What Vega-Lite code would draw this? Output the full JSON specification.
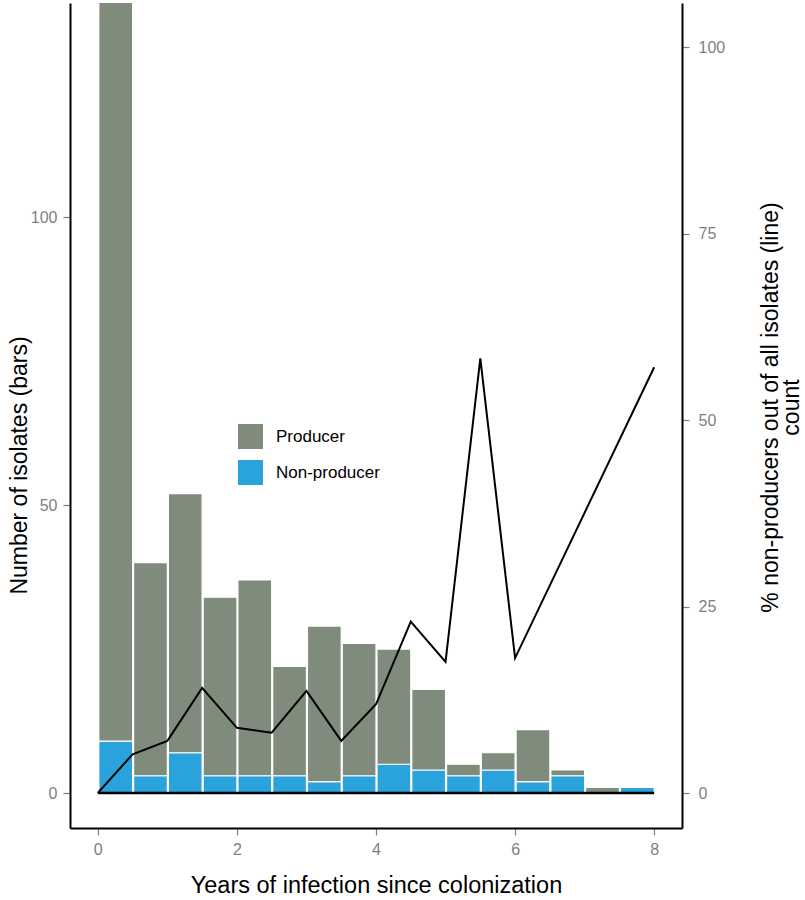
{
  "$schema": "https://vega.github.io/schema/vega-lite/v6.json",
  "width": 612,
  "height": 825,
  "autosize": {"type": "none"},
  "padding": {"left": 70, "top": 3, "right": 123, "bottom": 72},
  "config": {
    "view": {"stroke": null},
    "font": "Liberation Sans",
    "axis": {
      "grid": false,
      "domainColor": "black",
      "domainWidth": 2,
      "tickColor": "#7f7f7f",
      "tickWidth": 1.2,
      "tickSize": 7,
      "labelColor": "#7f7f7f",
      "labelFontSize": 16,
      "labelFont": "Liberation Sans",
      "titleFont": "Liberation Sans",
      "titleColor": "black",
      "titleFontWeight": "normal",
      "titleFontSize": 23
    }
  },
  "datasets": {
    "bars": [
      {"start": 0, "end": 0.5, "type": "Non-producer", "count": 9},
      {"start": 0, "end": 0.5, "type": "Producer", "count": 164},
      {"start": 0.5, "end": 1, "type": "Non-producer", "count": 3},
      {"start": 0.5, "end": 1, "type": "Producer", "count": 37},
      {"start": 1, "end": 1.5, "type": "Non-producer", "count": 7},
      {"start": 1, "end": 1.5, "type": "Producer", "count": 45},
      {"start": 1.5, "end": 2, "type": "Non-producer", "count": 3},
      {"start": 1.5, "end": 2, "type": "Producer", "count": 31},
      {"start": 2, "end": 2.5, "type": "Non-producer", "count": 3},
      {"start": 2, "end": 2.5, "type": "Producer", "count": 34},
      {"start": 2.5, "end": 3, "type": "Non-producer", "count": 3},
      {"start": 2.5, "end": 3, "type": "Producer", "count": 19},
      {"start": 3, "end": 3.5, "type": "Non-producer", "count": 2},
      {"start": 3, "end": 3.5, "type": "Producer", "count": 27},
      {"start": 3.5, "end": 4, "type": "Non-producer", "count": 3},
      {"start": 3.5, "end": 4, "type": "Producer", "count": 23},
      {"start": 4, "end": 4.5, "type": "Non-producer", "count": 5},
      {"start": 4, "end": 4.5, "type": "Producer", "count": 20},
      {"start": 4.5, "end": 5, "type": "Non-producer", "count": 4},
      {"start": 4.5, "end": 5, "type": "Producer", "count": 14},
      {"start": 5, "end": 5.5, "type": "Non-producer", "count": 3},
      {"start": 5, "end": 5.5, "type": "Producer", "count": 2},
      {"start": 5.5, "end": 6, "type": "Non-producer", "count": 4},
      {"start": 5.5, "end": 6, "type": "Producer", "count": 3},
      {"start": 6, "end": 6.5, "type": "Non-producer", "count": 2},
      {"start": 6, "end": 6.5, "type": "Producer", "count": 9},
      {"start": 6.5, "end": 7, "type": "Non-producer", "count": 3},
      {"start": 6.5, "end": 7, "type": "Producer", "count": 1},
      {"start": 7, "end": 7.5, "type": "Non-producer", "count": 0},
      {"start": 7, "end": 7.5, "type": "Producer", "count": 1},
      {"start": 7.5, "end": 8, "type": "Non-producer", "count": 1},
      {"start": 7.5, "end": 8, "type": "Producer", "count": 0}
    ],
    "pct": [
      {"year": 0, "pct": 0},
      {"year": 0.5, "pct": 5.2},
      {"year": 1, "pct": 7.0},
      {"year": 1.5, "pct": 14.1},
      {"year": 2, "pct": 8.75},
      {"year": 2.5, "pct": 8.1},
      {"year": 3, "pct": 13.7},
      {"year": 3.5, "pct": 7.0},
      {"year": 4, "pct": 11.9},
      {"year": 4.5, "pct": 23.0},
      {"year": 5, "pct": 17.6},
      {"year": 5.5, "pct": 58.3},
      {"year": 6, "pct": 18.1},
      {"year": 8, "pct": 57.1}
    ],
    "base": [{"from": 0, "to": 8, "y": 0}]
  },
  "layer": [
    {
      "layer": [
        {
          "data": {"name": "bars"},
          "mark": {"type": "bar", "stroke": "white", "strokeWidth": 1.2, "clip": true},
          "encoding": {
            "x": {
              "field": "start",
              "type": "quantitative",
              "bin": {"binned": true, "step": 0.5},
              "scale": {"domain": [-0.4, 8.4], "nice": false, "zero": false},
              "axis": {
                "values": [0, 2, 4, 6, 8],
                "format": "d",
                "title": "Years of infection since colonization",
                "titleFontSize": 23.5,
                "labelPadding": 6,
                "titleY": 57,
                "titleBaseline": "middle"
              }
            },
            "x2": {"field": "end"},
            "y": {
              "field": "count",
              "type": "quantitative",
              "stack": "zero",
              "scale": {"domain": [-6.07, 137.2], "nice": false, "zero": false},
              "axis": {
                "orient": "left",
                "values": [0, 50, 100],
                "title": "Number of isolates (bars)",
                "labelPadding": 6,
                "titleAngle": 270,
                "titleX": -51,
                "titleY": 462,
                "titleAlign": "center",
                "titleBaseline": "middle"
              }
            },
            "color": {
              "field": "type",
              "type": "nominal",
              "scale": {"domain": ["Producer", "Non-producer"], "range": ["#7f8b7b", "#2aa3dc"]},
              "legend": {
                "title": null,
                "orient": "none",
                "legendX": 167,
                "legendY": 420,
                "padding": 0,
                "symbolType": "square",
                "symbolSize": 676,
                "symbolStrokeColor": "white",
                "symbolStrokeWidth": 1,
                "symbolOpacity": 1,
                "rowPadding": 5,
                "labelOffset": 12,
                "labelFontSize": 17,
                "labelColor": "black",
                "labelFont": "Liberation Sans"
              }
            },
            "order": {"field": "type", "sort": "ascending"}
          }
        },
        {
          "data": {"name": "base"},
          "mark": {"type": "rule", "color": "black", "strokeWidth": 2.5},
          "encoding": {
            "x": {"field": "from", "type": "quantitative"},
            "x2": {"field": "to"},
            "y": {"field": "y", "type": "quantitative"}
          }
        }
      ]
    },
    {
      "data": {"name": "pct"},
      "mark": {"type": "line", "color": "black", "strokeWidth": 2},
      "encoding": {
        "x": {"field": "year", "type": "quantitative", "scale": {"domain": [-0.4, 8.4], "nice": false, "zero": false}},
        "y": {
          "field": "pct",
          "type": "quantitative",
          "scale": {"domain": [-4.69, 105.95], "nice": false, "zero": false},
          "axis": {
            "orient": "right",
            "values": [0, 25, 50, 75, 100],
            "title": ["% non-producers out of all isolates (line)", "count"],
            "titleFontSize": 23,
            "titleLineHeight": 21,
            "labelPadding": 9,
            "titleAngle": 270,
            "titleX": 88,
            "titleY": 404,
            "titleAlign": "center",
            "titleBaseline": "middle"
          }
        }
      }
    }
  ],
  "resolve": {"scale": {"y": "independent"}}
}
